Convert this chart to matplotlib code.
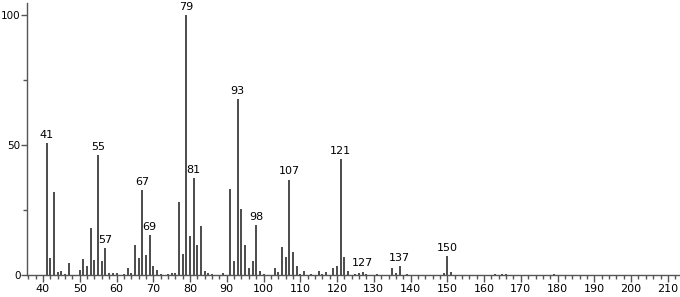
import matplotlib
matplotlib.use("Agg")
from matplotlib import pyplot as plt
from matplotlib.ticker import MultipleLocator

# m/z and relative intensity
mz = [41, 42, 43, 44, 45, 46, 47, 50, 51, 52, 53, 54, 55, 56, 57, 58, 59, 60,
      62, 63, 64, 65, 66, 67, 68, 69, 70, 71, 72, 74, 75, 76, 77, 78, 79, 80,
      81, 82, 83, 84, 85, 86, 89, 91, 92, 93, 94, 95, 96, 97, 98, 99, 100,
      103, 104, 105, 106, 107, 108, 109, 110, 111, 113, 115, 116, 117, 119,
      120, 121, 122, 123, 125, 126, 127, 128, 131, 135, 136, 137, 139, 149,
      150, 151, 163, 165, 166, 179]
intensity = [50.8, 6.7, 31.8, 1.3, 1.5, 0.4, 4.7, 1.8, 6.0, 3.6, 18.2, 5.6,
             46.0, 5.3, 10.4, 0.9, 0.6, 0.9, 0.4, 2.6, 0.6, 11.4, 6.4, 32.5,
             7.6, 15.5, 3.6, 1.8, 0.3, 0.5, 0.8, 0.8, 28.0, 8.2, 100.0, 14.9,
             37.4, 11.7, 19.0, 1.7, 0.7, 0.3, 0.8, 33.0, 5.3, 67.5, 25.3,
             11.7, 2.8, 5.3, 19.1, 1.7, 0.5, 2.7, 1.0, 10.9, 6.8, 36.7, 9.0,
             3.3, 0.5, 1.4, 0.3, 1.4, 0.5, 1.3, 2.8, 3.5, 44.7, 7.0, 1.5, 0.4,
             0.8, 1.3, 0.5, 0.5, 2.8, 0.8, 3.5, 0.3, 0.9, 7.4, 1.2, 0.5, 0.5,
             0.5, 0.5]
labeled = [41, 55, 57, 67, 69, 79, 81, 93, 98, 107, 121, 127, 137, 150]

plt.rcParams['font.family'] = ['DejaVu Sans']

fig = plt.figure(figsize=(6.8, 2.97), dpi=100)
ax = fig.add_axes([27 / 680, 22 / 297, 653 / 680, 272 / 297])

ax.vlines(mz, 0, intensity, color='#1a1a1a', linewidth=1.1)
for m, v in zip(mz, intensity):
    if m in labeled:
        ax.text(m, v + 1.2, str(m), ha='center', va='bottom', fontsize=8)

ax.set_xlim(35.65, 213.3)
ax.set_ylim(0, 104.6)
ax.xaxis.set_major_locator(MultipleLocator(10))
ax.xaxis.set_minor_locator(MultipleLocator(2))
ax.yaxis.set_major_locator(MultipleLocator(50))
ax.yaxis.set_minor_locator(MultipleLocator(25))

for side in ['top', 'right']:
    ax.spines[side].set_visible(False)
for side in ['left', 'bottom']:
    ax.spines[side].set_color('#555555')
    ax.spines[side].set_linewidth(1.0)

ax.tick_params(which='major', length=5, width=1, color='#555555',
               labelsize=8, pad=1.5)
ax.tick_params(which='minor', length=3, width=1, color='#555555')
ax.tick_params(axis='y', which='major', length=4, pad=0.5, labelsize=7.5)

fig.savefig('out.png', dpi=100)
